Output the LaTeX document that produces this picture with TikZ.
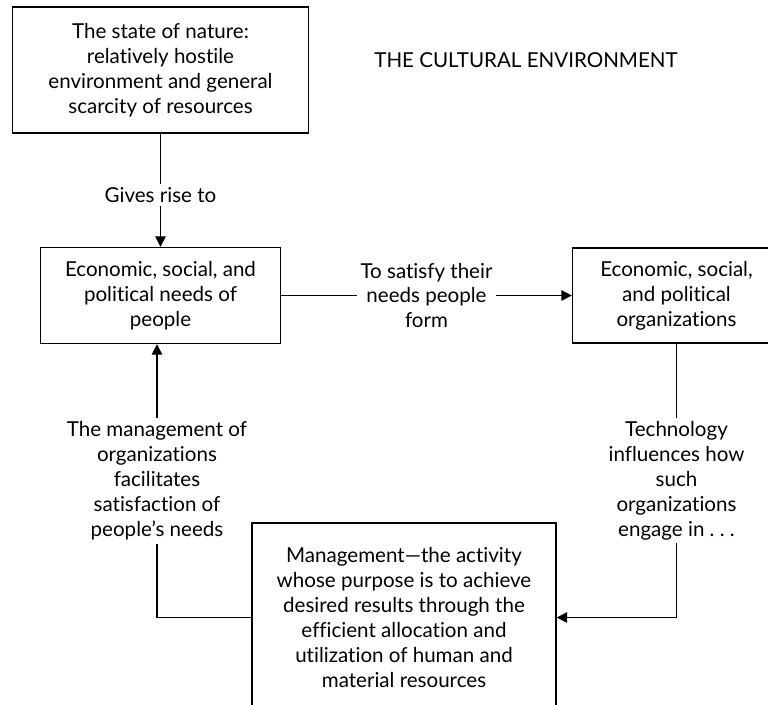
\documentclass[tikz,border=0pt]{standalone}
\usepackage{fontspec}
\setmainfont{Lato}[Ligatures=NoCommon]
\usetikzlibrary{arrows.meta}

\begin{document}
\begin{tikzpicture}[x=0.02cm, y=-0.02cm, >={Triangle[length=6pt,width=6pt]},
  font=\fontsize{11.7}{14.2}\selectfont,
  box/.style={draw, line width=0.8pt, inner sep=0pt, align=center},
  lbl/.style={fill=white, inner sep=2pt, align=center}]
  \useasboundingbox (0,0) rectangle (768,705);
  \clip (0,0) rectangle (768,705);

  % boxes
  \node[box, minimum width=5.92cm, minimum height=2.52cm] (nature) at (160.5,70)
    {The state of nature:\\ relatively hostile\\ environment and general\\ scarcity of resources};
  \node[box, minimum width=4.8cm, minimum height=1.92cm] (needs) at (160.5,295.5)
    {Economic, social, and\\ political needs of\\ people};
  \node[box, minimum width=4.16cm, minimum height=1.9cm] (orgs) at (676.5,295.5)
    {Economic, social,\\ and political\\ organizations};
  \node[box, minimum width=6.08cm, minimum height=3.78cm] (mgmt) at (404,617.5)
    {Management---the activity\\ whose purpose is to achieve\\ desired results through the\\
     efficient allocation and\\ utilization of human and\\ material resources};

  \node (title) at (526,60) {THE CULTURAL ENVIRONMENT};

  % connectors
  \draw[->, line width=0.8pt] (nature.south) -- (needs.north)
    node[lbl, pos=0.54] (rise) {Gives rise to};
  \draw[->, line width=0.8pt] (needs.east) -- (orgs.west)
    node[lbl, midway] (form) {To satisfy their\\ needs people\\ form};
  \draw[->, line width=0.8pt] (orgs.south) |- (mgmt.east)
    node[lbl, pos=0.25] (tech) {Technology\\ influences how\\ such\\ organizations\\ engage in .\ .\ .};
  \draw[->, line width=0.8pt] (mgmt.west) -| ([xshift=-2]needs.south)
    node[lbl, pos=0.75] (facil) {The management of\\ organizations\\ facilitates\\ satisfaction of\\ people's needs};
\end{tikzpicture}
\end{document}
